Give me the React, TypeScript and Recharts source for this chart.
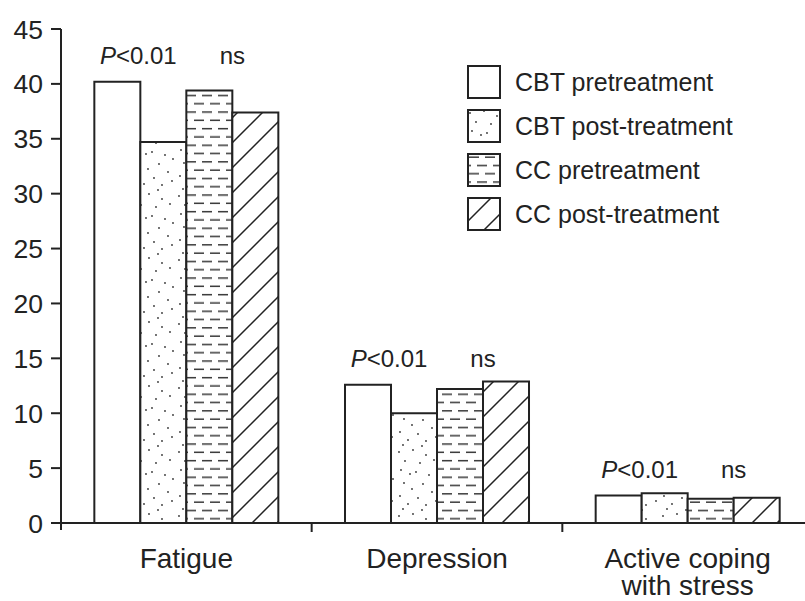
import React from "react";
import { Bar, BarChart, LabelList, XAxis, YAxis } from "recharts";

const categories = ["Fatigue", "Depression", "Active coping\nwith stress"];
const cbtPre = [40.2, 12.6, 2.5];
const cbtPost = [34.7, 10.0, 2.7];
const ccPre = [39.4, 12.2, 2.2];
const ccPost = [37.4, 12.9, 2.3];
const seriesNames = ["CBT pretreatment", "CBT post-treatment", "CC pretreatment", "CC post-treatment"];
const yTicks = [0, 5, 10, 15, 20, 25, 30, 35, 40, 45];
const sigText = "<0.01";
const nsText = "ns";

const data = categories.map((name, i) => ({
  name,
  cbtPre: cbtPre[i],
  cbtPost: cbtPost[i],
  ccPre: ccPre[i],
  ccPost: ccPost[i],
}));

const INK = "#222";
const FONT = "'Liberation Sans', Arial, Helvetica, sans-serif";
const X_TICK = 9;

const fills = ["#fff", "url(#dots)", "url(#dashes)", "url(#hatch)"];
const keys = ["cbtPre", "cbtPost", "ccPre", "ccPost"];

// stipple positions inside one tile of the dot pattern
const stipple = [
  [3, 4], [17, 2], [30, 7], [9, 13], [24, 15], [38, 12], [5, 22], [14, 26], [20, 24],
  [33, 27], [41, 31], [8, 35], [27, 36], [16, 41], [36, 44], [4, 48], [22, 50], [12, 56],
  [30, 57], [40, 53], [26, 62], [7, 61],
];

function Patterns() {
  return (
    <defs>
      <pattern id="dots" patternUnits="userSpaceOnUse" width="44" height="64">
        <rect width="44" height="64" fill="#fff" />
        {stipple.map(([cx, cy], i) => (
          <circle key={i} cx={cx} cy={cy} r="0.9" fill="#333" />
        ))}
      </pattern>
      <pattern id="dashes" patternUnits="userSpaceOnUse" width="16" height="16.6">
        <rect width="16" height="16.6" fill="#fff" />
        <path d="M2,4.2 H12 M10,12.5 H16 M0,12.5 H4" stroke="#333" strokeWidth="1.5" />
      </pattern>
      <pattern id="hatch" patternUnits="userSpaceOnUse" width="25" height="25">
        <rect width="25" height="25" fill="#fff" />
        <path d="M0,25 L25,0 M-5,5 L5,-5 M20,30 L30,20" stroke={INK} strokeWidth="1.5" />
      </pattern>
    </defs>
  );
}

function CategoryTick(props: any) {
  const { x, y, payload, index } = props;
  const half = payload.offset ?? 125;
  const lines = String(payload.value).split("\n");
  return (
    <g>
      {index < categories.length - 1 && (
        <line x1={x + half} x2={x + half} y1={y - X_TICK} y2={y} stroke={INK} strokeWidth={2} />
      )}
      <text x={x} y={y + 36} textAnchor="middle" fill={INK} fontSize={28} fontFamily={FONT}>
        {lines.map((l, i) => (
          <tspan key={i} x={x} dy={i === 0 ? 0 : 27}>
            {l}
          </tspan>
        ))}
      </text>
    </g>
  );
}

function ValueTick(props: any) {
  const { x, y, payload } = props;
  return (
    <g>
      {payload.value === 0 && (
        <line x1={x + 18} x2={x + 18} y1={y} y2={y + 7} stroke={INK} strokeWidth={2} />
      )}
      <text x={x} y={y} dy="0.36em" textAnchor="end" fill={INK} fontSize={26.5} fontFamily={FONT}>
        {payload.value}
      </text>
    </g>
  );
}

function SigLabel(props: any) {
  const { x, y, width } = props;
  const ty = y - 18;
  return (
    <g fill={INK} fontSize={24} fontFamily={FONT} textAnchor="middle">
      <text x={x + width - 2} y={ty}>
        <tspan fontStyle="italic">P</tspan>
        {sigText}
      </text>
      <text x={x + 3 * width} y={ty}>
        {nsText}
      </text>
    </g>
  );
}

function LegendBox() {
  return (
    <div style={{ position: "absolute", left: 467, top: 60, fontFamily: FONT, color: INK }}>
      {seriesNames.map((n, i) => (
        <div key={n} style={{ display: "flex", alignItems: "center", height: 44 }}>
          <svg width={34} height={34} style={{ display: "block" }}>
            <rect x={1} y={1} width={32} height={32} fill={fills[i]} stroke={INK} strokeWidth={2} />
          </svg>
          <span style={{ marginLeft: 14, fontSize: 25, whiteSpace: "nowrap" }}>{n}</span>
        </div>
      ))}
    </div>
  );
}

export default function App() {
  return (
    <div
      style={{
        position: "fixed",
        left: 0,
        top: 0,
        width: 805,
        height: 601,
        overflow: "hidden",
        background: "#fff",
      }}
    >
      <BarChart
        width={813}
        height={601}
        data={data}
        margin={{ top: 29, right: 0, left: 1, bottom: 18 }}
        barCategoryGap="13.3%"
        barGap={0}
      >
        <Patterns />
        <XAxis
          dataKey="name"
          height={60}
          tickLine={false}
          tickSize={X_TICK}
          tickMargin={0}
          axisLine={{ stroke: INK, strokeWidth: 2 }}
          tick={<CategoryTick />}
          interval={0}
        />
        <YAxis
          width={60}
          domain={[0, 45]}
          ticks={yTicks}
          tickSize={10}
          tickMargin={8}
          tickLine={{ stroke: INK, strokeWidth: 2 }}
          axisLine={{ stroke: INK, strokeWidth: 2 }}
          tick={<ValueTick />}
          allowDataOverflow
        />
        {keys.map((k, i) => (
          <Bar
            key={k}
            dataKey={k}
            name={seriesNames[i]}
            fill={fills[i]}
            stroke={INK}
            strokeWidth={2}
            isAnimationActive={false}
          >
            {i === 0 && <LabelList dataKey={k} content={<SigLabel />} />}
          </Bar>
        ))}
      </BarChart>
      <LegendBox />
    </div>
  );
}
